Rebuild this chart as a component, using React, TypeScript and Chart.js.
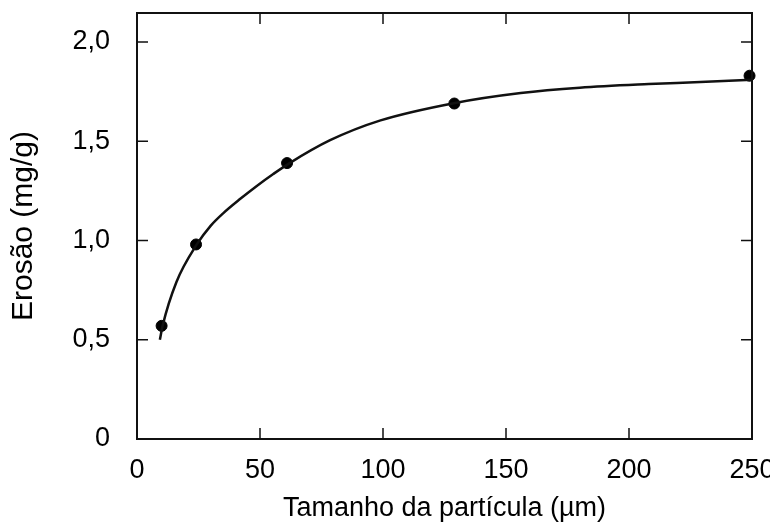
import React, { useEffect, useRef } from "react";
import { Chart, registerables } from "chart.js";

Chart.register(...registerables);

// Measured points
const pointX = [10, 24, 61, 129, 249];
const pointY = [0.57, 0.98, 1.39, 1.69, 1.83];

// Fitted curve
const curveX = [9.3, 10.4, 16, 24.3, 30, 35, 42, 48.7, 55.4, 61.4, 78.5, 99, 129.3, 156, 180, 208, 229, 250];
const curveY = [0.5, 0.57, 0.79, 0.98, 1.075, 1.137, 1.21, 1.275, 1.335, 1.385, 1.505, 1.605, 1.693, 1.743, 1.77, 1.788, 1.798, 1.81];

const xTicks = [0, 50, 100, 150, 200, 250];
const yTicks = [0, 0.5, 1.0, 1.5, 2.0];

const xTitle = "Tamanho da partícula (µm)";
const yTitle = "Erosão (mg/g)";

const FONT = "'Liberation Sans', Arial, Helvetica, sans-serif";

const framePlugin = {
  id: "frameTicks",
  afterDraw(chart: any) {
    const { ctx, chartArea: a } = chart;
    const xs = chart.scales.x;
    const ys = chart.scales.y;
    const L = 11;
    ctx.save();
    ctx.strokeStyle = "#111";
    ctx.lineWidth = 2;
    ctx.strokeRect(a.left, a.top, a.right - a.left, a.bottom - a.top);
    ctx.lineWidth = 1.5;
    ctx.beginPath();
    xs.ticks.forEach((_t: any, i: number) => {
      const px = xs.getPixelForTick(i);
      if (i === 0 || i === xs.ticks.length - 1) return;
      ctx.moveTo(px, a.bottom);
      ctx.lineTo(px, a.bottom - L);
      ctx.moveTo(px, a.top);
      ctx.lineTo(px, a.top + L);
    });
    ys.ticks.forEach((_t: any, i: number) => {
      const py = ys.getPixelForTick(i);
      if (i === 0) return;
      ctx.moveTo(a.left, py);
      ctx.lineTo(a.left + L, py);
      ctx.moveTo(a.right, py);
      ctx.lineTo(a.right - L, py);
    });
    ctx.stroke();
    ctx.restore();
  },
};

const noPad = (s: any) => {
  s.paddingTop = 0;
  s.paddingBottom = 0;
  s.paddingLeft = 0;
  s.paddingRight = 0;
};

export default function App() {
  const ref = useRef<HTMLCanvasElement>(null);
  useEffect(() => {
    if (!ref.current) return;
    const chart = new Chart(ref.current, {
      type: "scatter",
      data: {
        datasets: [
          {
            data: curveX.map((x, i) => ({ x, y: curveY[i] })),
            showLine: true,
            borderColor: "#111",
            borderWidth: 2.5,
            pointRadius: 0,
            cubicInterpolationMode: "monotone",
            clip: false,
          } as any,
          {
            data: pointX.map((x, i) => ({ x, y: pointY[i] })),
            showLine: false,
            backgroundColor: "#000",
            borderColor: "#000",
            pointRadius: 5.5,
            clip: false,
          } as any,
        ],
      },
      options: {
        animation: false,
        responsive: false,
        maintainAspectRatio: false,
        layout: { padding: { top: 13, right: 18, left: 0, bottom: 0 } },
        plugins: { legend: { display: false }, tooltip: { enabled: false } },
        scales: {
          x: {
            type: "linear",
            min: 0,
            max: 250,
            afterBuildTicks: (s: any) => {
              s.ticks = xTicks.map((v) => ({ value: v }));
            },
            afterFit: (s: any) => {
              s.height = 92;
              noPad(s);
            },
            grid: { display: false, drawTicks: false },
            border: { display: false },
            ticks: {
              color: "#000",
              padding: 15,
              font: { family: FONT, size: 27 },
              maxRotation: 0,
              callback: (v: any) => String(v),
            },
            title: {
              display: true,
              text: xTitle,
              color: "#000",
              font: { family: FONT, size: 27 },
              padding: { top: 4, bottom: 6 },
            },
          },
          y: {
            type: "linear",
            min: 0,
            max: 2.146,
            afterBuildTicks: (s: any) => {
              s.ticks = yTicks.map((v) => ({ value: v }));
            },
            afterFit: (s: any) => {
              s.width = 137;
              noPad(s);
            },
            grid: { display: false, drawTicks: false },
            border: { display: false },
            ticks: {
              color: "#000",
              padding: 27,
              font: { family: FONT, size: 27 },
              callback: (v: any) => (v === 0 ? "0" : Number(v).toFixed(1).replace(".", ",")),
            },
            title: {
              display: true,
              text: yTitle,
              color: "#000",
              font: { family: FONT, size: 30 },
              padding: { bottom: 0, top: 6 },
            },
          },
        },
      },
      plugins: [framePlugin],
    });
    return () => chart.destroy();
  }, []);
  return (
    <div style={{ position: "fixed", left: 0, top: 0, width: 770, height: 531, background: "#fff" }}>
      <canvas ref={ref} width={770} height={531} style={{ width: 770, height: 531 }} />
    </div>
  );
}
